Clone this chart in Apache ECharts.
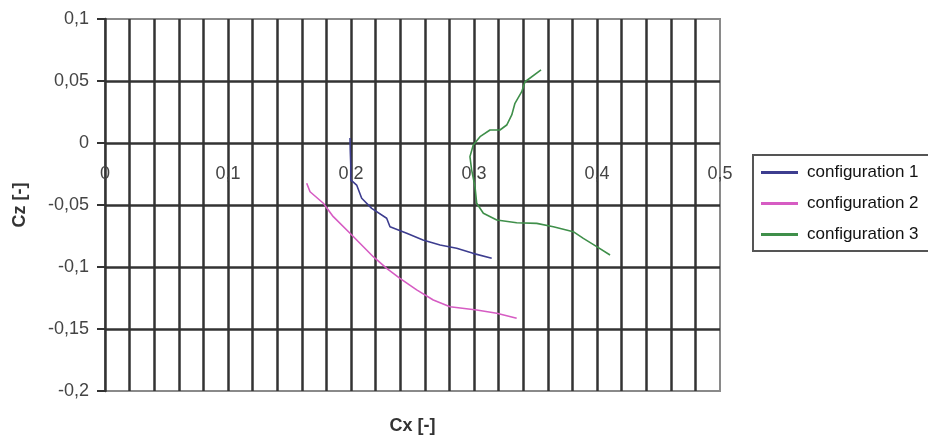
<!DOCTYPE html>
<html>
<head>
<meta charset="utf-8">
<style>html,body{margin:0;padding:0;background:#fff}#c{width:928px;height:441px}</style>
<script src="https://cdn.jsdelivr.net/npm/echarts@6/dist/echarts.min.js"></script>
</head>
<body>
<div id="c"></div>
<script>
const seriesNames = ['configuration 1', 'configuration 2', 'configuration 3'];
const config1 = [
  [0.1992, 0.004], [0.1994, -0.0056], [0.1998, -0.0177], [0.1998, -0.0298],
  [0.2046, -0.0339], [0.2087, -0.0446], [0.2168, -0.0527], [0.2290, -0.0607],
  [0.2317, -0.0675], [0.2453, -0.0728], [0.2585, -0.0782], [0.2724, -0.0823],
  [0.2859, -0.0849], [0.2992, -0.0890], [0.3144, -0.0930]
];
const config2 = [
  [0.1640, -0.0325], [0.1667, -0.0393], [0.1775, -0.0486], [0.1856, -0.0594],
  [0.1992, -0.0728], [0.2181, -0.0917], [0.2290, -0.1011], [0.2398, -0.1091],
  [0.2534, -0.1185], [0.2669, -0.1266], [0.2805, -0.1320], [0.3022, -0.1347],
  [0.3185, -0.1373], [0.3347, -0.1414]
];
const config3 = [
  [0.3545, 0.0589], [0.3415, 0.0494], [0.3388, 0.0414], [0.3333, 0.0320],
  [0.3307, 0.0226], [0.3266, 0.0145], [0.3211, 0.0105], [0.3130, 0.0105],
  [0.3049, 0.0051], [0.2994, -0.0016], [0.2967, -0.0110], [0.2981, -0.0218],
  [0.3008, -0.0352], [0.3022, -0.0486], [0.3076, -0.0567], [0.3185, -0.0621],
  [0.3347, -0.0643], [0.3510, -0.0648], [0.3645, -0.0675], [0.3807, -0.0715],
  [0.3889, -0.0769], [0.3998, -0.0836], [0.4106, -0.0903]
];
const colors = ['#3d3d8f', '#d65cc3', '#3f8f4a'];
const xName = 'Cx [-]';
const yName = 'Cz [-]';

const fmt = v => String(parseFloat(v.toFixed(3))).replace('.', ',');
const gridLine = { color: '#333', width: 2.5 };
const font = 'Liberation Sans, Arial, sans-serif';

const chart = echarts.init(document.getElementById('c'));
chart.setOption({
  animation: false,
  color: colors,
  grid: { left: 105, right: 208, top: 19, bottom: 50, show: true, borderColor: '#8a8a8a', borderWidth: 2, containLabel: false, outerBoundsMode: 'none' },
  xAxis: {
    type: 'value', min: 0, max: 0.5, interval: 0.1, position: 'bottom',
    name: xName, nameLocation: 'middle', nameGap: 26,
    nameTextStyle: { fontFamily: font, fontWeight: 'bold', fontSize: 18, color: '#333' },
    axisLine: { show: false, onZero: false },
    axisTick: { show: false },
    axisLabel: { formatter: fmt, margin: -226, fontFamily: font, fontSize: 18, color: '#444' },
    splitLine: { show: true, showMinLine: false, showMaxLine: false, lineStyle: gridLine },
    minorTick: { show: false, splitNumber: 5 },
    minorSplitLine: { show: true, lineStyle: gridLine }
  },
  yAxis: {
    type: 'value', min: -0.2, max: 0.1, interval: 0.05,
    name: yName, nameLocation: 'middle', nameRotate: 90, nameGap: 76,
    nameTextStyle: { fontFamily: font, fontWeight: 'bold', fontSize: 18, color: '#333' },
    axisLine: { show: true, onZero: false, lineStyle: { color: '#333', width: 2.5 } },
    axisTick: { show: true, length: 8, lineStyle: { color: '#333', width: 2 } },
    axisLabel: { formatter: fmt, margin: 16, fontFamily: font, fontSize: 18, color: '#444' },
    splitLine: { show: true, showMinLine: false, showMaxLine: false, lineStyle: gridLine }
  },
  legend: {
    orient: 'vertical', left: 753, top: 155,
    backgroundColor: '#fff', borderColor: '#555', borderWidth: 2,
    padding: [9, 40, 8, 8], itemWidth: 37, itemHeight: 3, itemGap: 14, icon: 'rect',
    textStyle: { fontFamily: font, fontSize: 17, color: '#111', padding: [0, 0, 0, 4] },
    data: seriesNames
  },
  series: [config1, config2, config3].map((d, i) => ({
    name: seriesNames[i], type: 'line', data: d, showSymbol: false,
    lineStyle: { width: 1.6, color: colors[i] }, z: 5
  }))
});
</script>
</body>
</html>
